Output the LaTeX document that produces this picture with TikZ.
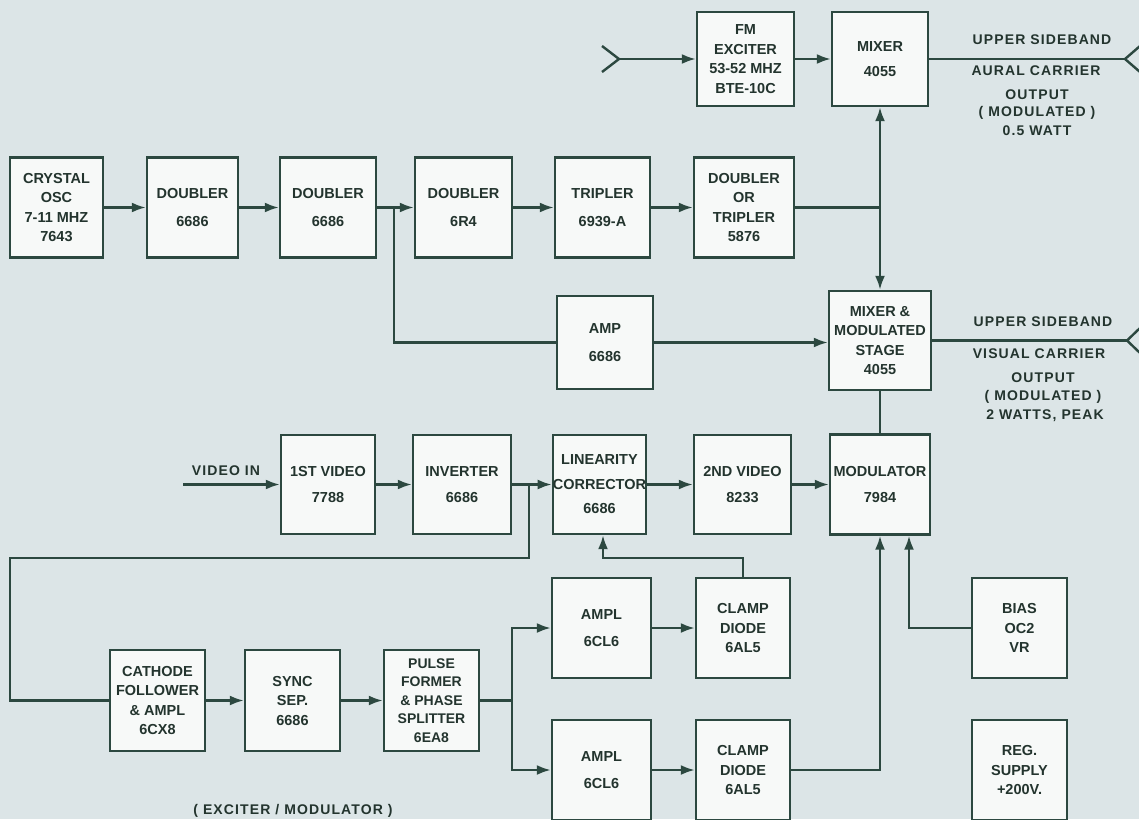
\documentclass[tikz,border=0pt]{standalone}
\usepackage{fontspec}
\setmainfont{Liberation Sans}
\newfontfamily\lblfont{Liberation Sans}[LetterSpace=8]
\usetikzlibrary{arrows.meta}
\definecolor{bgc}{HTML}{DCE5E7}
\definecolor{boxc}{HTML}{F7F9F8}
\definecolor{linec}{HTML}{2C4840}
\definecolor{txtc}{HTML}{23342E}
\begin{document}
\begin{tikzpicture}[x=1pt,y=-1pt,
 blk/.style={draw=linec, fill=boxc, line width=2.4pt, inner sep=0pt, align=center, text=txtc, font=\bfseries\fontsize{14.5}{19.5}\selectfont},
 bx/.style 2 args={blk, minimum width=#1, minimum height=#2},
 wire/.style={draw=linec, line width=2.4pt},
 arr/.style={wire, -{Latex[length=14pt,width=10pt]}},
 lbl/.style={text=txtc, font=\lblfont\bfseries\fontsize{14}{16}\selectfont, inner sep=0pt}
]
\fill[bgc] (0,0) rectangle (1139,819);
\useasboundingbox (0,0) rectangle (1139,819);
\clip (0,0) rectangle (1139,819);

% top chain
\node[bx={93pt}{100pt}] (osc) at (56.5,207.5) {CRYSTAL\\OSC\\7-11 MHZ\\7643};
\node[bx={91pt}{100pt}] (dbl1) at (192.5,207.5) {DOUBLER\\[9pt]6686};
\node[bx={96pt}{100pt}] (dbl2) at (328,207.5) {DOUBLER\\[9pt]6686};
\node[bx={97pt}{100pt}] (dbl3) at (463.5,207.5) {DOUBLER\\[9pt]6R4};
\node[bx={95pt}{100pt}] (trip) at (602.5,207.5) {TRIPLER\\[9pt]6939-A};
\node[bx={100pt}{100pt}] (dort) at (744,207.5) {DOUBLER\\OR\\TRIPLER\\5876};
\node[bx={97pt}{94pt}] (fm) at (745.5,59) {FM\\EXCITER\\53-52 MHZ\\BTE-10C};
\node[bx={96pt}{94pt}] (mix) at (880,59) {MIXER\\[5pt]4055};
\node[bx={96pt}{93pt}] (amp) at (605,342.5) {AMP\\[8pt]6686};
\node[bx={102pt}{99pt}] (mms) at (880,340.5) {MIXER \&\\MODULATED\\STAGE\\4055};

% video row
\node[bx={94pt}{99pt}] (v1) at (328,484.5) {1ST VIDEO\\[7pt]7788};
\node[bx={98pt}{99pt}] (inv) at (462,484.5) {INVERTER\\[7pt]6686};
\node[bx={93pt}{99pt}] (lin) at (599.5,484.5) {LINEARITY\\[5pt]CORRECTOR\\[5pt]6686};
\node[bx={97pt}{99pt}] (v2) at (742.5,484.5) {2ND VIDEO\\[7pt]8233};
\node[bx={100pt}{100pt}] (mod) at (880,484.5) {MODULATOR\\[7pt]7984};

% sync chain
\node[bx={95pt}{101pt}] (cf) at (157.5,700.5) {CATHODE\\FOLLOWER\\\& AMPL\\6CX8};
\node[bx={95pt}{101pt}] (sync) at (292.5,700.5) {SYNC\\SEP.\\6686};
\node[bx={95pt}{101pt}, font=\bfseries\fontsize{14}{18.5}\selectfont] (pulse) at (431.5,700.5) {PULSE\\FORMER\\\& PHASE\\SPLITTER\\6EA8};
\node[bx={99pt}{100pt}] (amp1) at (601.5,628) {AMPL\\[8pt]6CL6};
\node[bx={94pt}{100pt}] (clamp1) at (743,628) {CLAMP\\DIODE\\6AL5};
\node[bx={95pt}{100pt}] (bias) at (1019.5,628) {BIAS\\OC2\\VR};
\node[bx={99pt}{100pt}] (amp2) at (601.5,770) {AMPL\\[8pt]6CL6};
\node[bx={94pt}{100pt}] (clamp2) at (743,770) {CLAMP\\DIODE\\6AL5};
\node[bx={95pt}{100pt}] (reg) at (1019.5,770) {REG.\\SUPPLY\\+200V.};

% labels
\node[lbl] (ua) at (1042,40) {UPPER SIDEBAND};
\node[lbl] (ac) at (1036,71) {AURAL CARRIER};
\node[lbl] (ao) at (1037,95) {OUTPUT};
\node[lbl] (am) at (1037,113) {( MODULATED )};
\node[lbl] (aw) at (1037,131) {0.5 WATT};
\node[lbl] (uv) at (1043,322) {UPPER SIDEBAND};
\node[lbl] (vc) at (1039,354) {VISUAL CARRIER};
\node[lbl] (vo) at (1043,378) {OUTPUT};
\node[lbl] (vm) at (1043,397) {( MODULATED )};
\node[lbl] (vw) at (1045,416) {2 WATTS, PEAK};
\node[lbl] (vinl) at (226,471) {VIDEO IN};
\node[lbl] (capt) at (293,811) {( EXCITER / MODULATOR )};

% coordinates
\coordinate (j1) at (394,207.5);
\coordinate (jm) at (880,207.5);
\coordinate (fin) at (619,59);
\coordinate (finA) at (602,46);
\coordinate (finB) at (602,72);
\coordinate (aout) at (1125,59);
\coordinate (aoutA) at (1140,46);
\coordinate (aoutB) at (1140,72);
\coordinate (vout) at (1127,340.5);
\coordinate (voutA) at (1140,328);
\coordinate (voutB) at (1140,353);
\coordinate (vin) at (183,484.5);
\coordinate (j2) at (529,484.5);
\coordinate (fb1) at (529,558);
\coordinate (fb2) at (10,558);
\coordinate (fb3) at (10,700.5);
\coordinate (js) at (512,700.5);
\coordinate (cl1) at (743,558);
\coordinate (cl2) at (603,558);
\coordinate (c2) at (880,770);
\coordinate (b1) at (909,628);

% connectors top
\draw[arr] (osc.east) -- (dbl1.west);
\draw[arr] (dbl1.east) -- (dbl2.west);
\draw[arr] (dbl2.east) -- (dbl3.west);
\draw[arr] (dbl3.east) -- (trip.west);
\draw[arr] (trip.east) -- (dort.west);
\draw[wire] (dort.east) -- (jm);
\draw[arr] (jm) -- (mix.south);
\draw[arr] (jm) -- (mms.north);
\draw[wire] (finA) -- (fin) -- (finB);
\draw[arr] (fin) -- (fm.west);
\draw[arr] (fm.east) -- (mix.west);
\draw[wire] (mix.east) -- (aout);
\draw[wire] (aoutA) -- (aout) -- (aoutB);
\draw[wire] (j1) |- (amp.west);
\draw[arr] (amp.east) -- (amp.east -| mms.west);
\draw[wire] (mms.east) -- (vout);
\draw[wire] (voutA) -- (vout) -- (voutB);
\draw[wire] (mms.south) -- (mod.north);

% video row
\draw[arr] (vin) -- (v1.west);
\draw[arr] (v1.east) -- (inv.west);
\draw[arr] (inv.east) -- (lin.west);
\draw[arr] (lin.east) -- (v2.west);
\draw[arr] (v2.east) -- (mod.west);
\draw[wire] (j2) -- (fb1) -- (fb2) -- (fb3) -- (cf.west);

% sync chain
\draw[arr] (cf.east) -- (sync.west);
\draw[arr] (sync.east) -- (pulse.west);
\draw[wire] (pulse.east) -- (js);
\draw[arr] (js) |- (amp1.west);
\draw[arr] (js) |- (amp2.west);
\draw[arr] (amp1.east) -- (clamp1.west);
\draw[arr] (amp2.east) -- (clamp2.west);
\draw[arr] (clamp1.north) -- (cl1) -- (cl2) -- (cl2 |- lin.south);
\draw[arr] (clamp2.east) -- (c2) -- (mod.south);
\draw[arr] (bias.west) -- (b1) -- (b1 |- mod.south);
\end{tikzpicture}
\end{document}
